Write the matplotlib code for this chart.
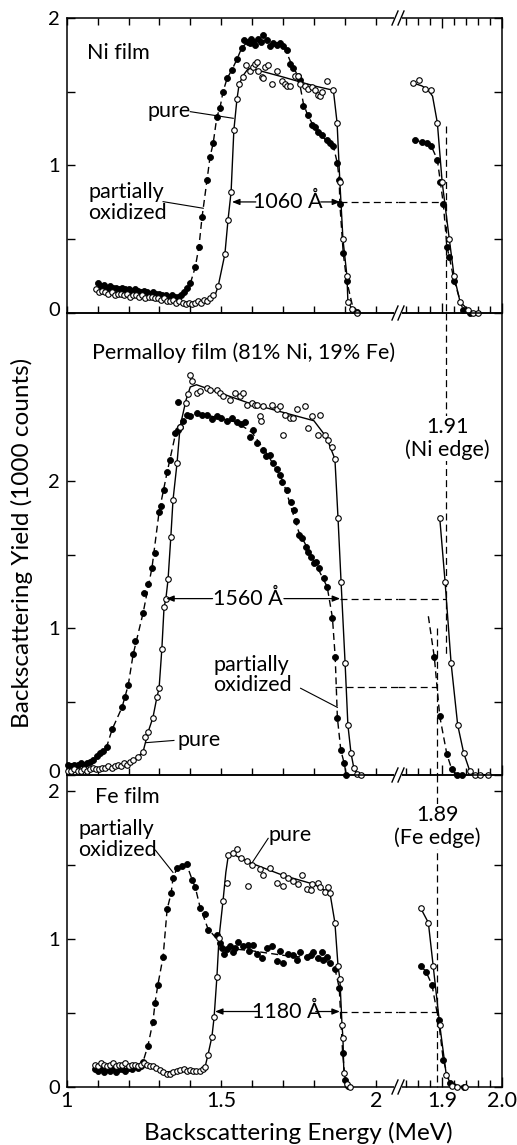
import matplotlib
matplotlib.use("Agg")
import matplotlib.pyplot as plt
from matplotlib.lines import Line2D
from matplotlib.transforms import ScaledTranslation
import numpy as np

plt.rcParams['font.family'] = ['Lato', 'DejaVu Sans']
plt.rcParams['lines.scale_dashes'] = False

# ---------------- DATA ----------------
# Top panel: Ni film (main energy scale)
ni_pure_E = [1.095,1.105,1.115,1.125,1.135,1.145,1.155,1.165,1.175,1.185,1.195,1.205,1.215,1.225,1.235,1.245,1.255,1.265,1.275,1.285,
             1.295,1.305,1.315,1.325,1.335,1.345,1.355,1.365,1.375,1.385,1.395,1.405,1.415,1.425,1.435,1.445,1.455,1.465,1.475,1.490,
             1.512,1.522,1.532,1.541,1.551,1.558,1.571,1.580,
             1.593,1.602,1.609,1.615,1.620,1.631,1.636,1.642,1.652,1.663,1.680,1.696,1.706,1.712,1.723,1.739,1.750,1.755,1.771,1.782,
             1.793,1.804,1.814,1.820,1.825,1.841,1.863,
             1.875,1.884,1.894,1.907,1.910,1.923,1.939]
ni_pure_Y = [0.16,0.14,0.15,0.14,0.13,0.14,0.12,0.13,0.13,0.12,0.13,0.11,0.12,0.12,0.11,0.12,0.10,0.11,0.11,0.10,
             0.10,0.09,0.10,0.08,0.08,0.09,0.07,0.08,0.07,0.06,0.07,0.06,0.07,0.08,0.07,0.09,0.08,0.10,0.12,0.18,
             0.40,0.63,0.82,1.24,1.45,1.55,1.60,1.68,
             1.64,1.67,1.69,1.70,1.64,1.60,1.59,1.67,1.68,1.55,1.64,1.57,1.55,1.54,1.54,1.61,1.61,1.55,1.54,1.52,
             1.53,1.51,1.48,1.47,1.50,1.57,1.51,
             1.29,0.89,0.50,0.25,0.075,0.03,0.0]
ni_pure_fitE = [1.095,1.20,1.30,1.38,1.43,1.46,1.48,1.49,1.512,1.522,1.532,1.541,1.551,1.558,1.571,1.585,1.594,1.70,1.80,1.863,
                1.875,1.884,1.894,1.907,1.910,1.923,1.939,1.95]
ni_pure_fitY = [0.16,0.125,0.095,0.07,0.07,0.09,0.12,0.18,0.40,0.63,0.82,1.24,1.45,1.55,1.61,1.65,1.66,1.60,1.54,1.51,
                1.29,0.89,0.50,0.25,0.075,0.03,0.0,0.0]

ni_ox_E = [1.10,1.11,1.12,1.13,1.14,1.15,1.16,1.17,1.18,1.19,1.20,1.21,1.22,1.23,1.24,1.25,1.26,1.27,1.28,1.29,
           1.30,1.31,1.32,1.33,1.34,1.35,1.36,1.37,1.38,1.39,
           1.400,1.416,1.428,1.438,1.454,1.464,1.474,1.486,1.496,1.506,1.519,1.535,1.551,1.567,1.575,1.587,
           1.593,1.598,1.604,1.610,1.620,1.628,1.636,1.647,1.658,1.669,1.680,1.690,1.701,1.712,1.723,1.733,1.750,1.755,
           1.766,1.782,1.793,1.804,1.814,1.825,1.841,1.852,1.863,1.876,1.882,1.884,1.895,1.906,1.928,1.938]
ni_ox_Y = [0.20,0.18,0.19,0.17,0.18,0.17,0.17,0.16,0.17,0.16,0.16,0.15,0.16,0.15,0.14,0.15,0.14,0.13,0.14,0.13,
           0.13,0.12,0.12,0.11,0.12,0.11,0.11,0.12,0.14,0.17,
           0.20,0.31,0.45,0.65,0.90,1.06,1.15,1.33,1.39,1.50,1.59,1.65,1.72,1.80,1.85,1.84,
           1.83,1.86,1.84,1.82,1.86,1.84,1.885,1.85,1.81,1.83,1.82,1.83,1.81,1.78,1.69,1.66,1.61,1.58,
           1.40,1.34,1.275,1.26,1.23,1.21,1.17,1.15,1.13,1.015,0.90,0.74,0.405,0.22,0.02,0.01]
ni_ox_fitE = [1.10,1.20,1.30,1.35,1.375,1.39,1.400,1.416,1.428,1.438,1.454,1.464,1.474,1.486,1.496,1.506,1.519,1.535,1.551,1.567,
              1.587,1.62,1.68,1.705,1.725,1.75,1.766,1.78,1.80,1.83,1.863,1.876,1.882,1.884,1.895,1.906,1.928,1.945]
ni_ox_fitY = [0.19,0.165,0.13,0.11,0.125,0.16,0.20,0.31,0.45,0.65,0.90,1.06,1.15,1.33,1.39,1.50,1.59,1.65,1.72,1.80,
              1.84,1.855,1.83,1.80,1.70,1.60,1.42,1.34,1.265,1.19,1.13,1.015,0.90,0.74,0.405,0.22,0.02,0.0]

# Top panel, expanded edge scale
ni_pure_edge_E = [1.851,1.862,1.872,1.882,1.892,1.900,1.912,1.920,1.930,1.944,1.952,1.960]
ni_pure_edge_Y = [1.56,1.58,1.52,1.51,1.29,0.89,0.50,0.25,0.075,0.02,0.0,0.0]
ni_pure_edge_fitE = [1.851,1.866,1.876,1.884,1.892,1.900,1.912,1.920,1.930,1.944,1.952,1.960]
ni_pure_edge_fitY = [1.56,1.54,1.515,1.47,1.29,0.89,0.50,0.25,0.075,0.02,0.0,0.0]
ni_ox_edge_E = [1.855,1.867,1.875,1.882,1.892,1.897,1.902,1.908,1.912,1.920,1.935,1.947]
ni_ox_edge_Y = [1.17,1.16,1.15,1.13,1.04,0.89,0.74,0.45,0.38,0.22,0.02,0.0]

# Middle panel: Permalloy film
py_pure_E = [1.005,1.015,1.025,1.035,1.045,1.055,1.065,1.075,1.085,1.095,1.105,1.115,1.125,1.135,1.145,1.155,1.165,1.175,1.185,1.195,1.205,
             1.216,1.232,1.247,1.254,1.263,1.279,1.292,1.299,1.308,1.315,1.321,1.328,1.337,1.344,1.357,1.367,1.386,1.393,
             1.399,1.404,1.421,1.431,1.453,1.464,1.485,1.496,1.507,1.528,1.545,1.561,1.571,1.583,1.599,1.609,1.615,1.626,1.630,
             1.636,1.663,1.680,1.690,1.701,1.706,1.723,1.733,1.744,1.771,1.782,1.793,1.814,1.820,1.836,1.847,1.858,1.868,
             1.878,1.888,1.901,1.910,1.920,1.929,1.939,1.952]
py_pure_Y = [0.03,0.03,0.04,0.03,0.03,0.04,0.03,0.04,0.05,0.04,0.04,0.05,0.05,0.06,0.05,0.06,0.07,0.06,0.08,0.07,0.09,
             0.10,0.12,0.156,0.26,0.29,0.39,0.53,0.59,0.86,1.14,1.20,1.33,1.62,1.87,2.12,2.37,2.53,2.59,
             2.72,2.68,2.60,2.61,2.63,2.62,2.62,2.60,2.58,2.55,2.60,2.58,2.60,2.52,2.53,2.52,2.52,2.44,2.41,
             2.51,2.52,2.49,2.51,2.31,2.45,2.43,2.43,2.49,2.51,2.36,2.44,2.31,2.45,2.31,2.28,2.23,2.15,
             1.75,1.31,0.76,0.34,0.15,0.05,0.01,0.0]
py_pure_fitE = [1.0,1.1,1.18,1.216,1.247,1.263,1.279,1.292,1.299,1.308,1.315,1.321,1.328,1.337,1.344,1.357,1.367,1.386,1.40,1.42,
                1.59,1.80,1.84,1.868,1.878,1.888,1.901,1.910,1.920,1.929,1.939,1.952]
py_pure_fitY = [0.03,0.04,0.07,0.10,0.156,0.29,0.39,0.53,0.59,0.86,1.14,1.20,1.33,1.62,1.87,2.12,2.37,2.55,2.64,2.655,
                2.53,2.41,2.30,2.15,1.75,1.31,0.76,0.34,0.15,0.05,0.01,0.0]

py_ox_E = [1.005,1.015,1.025,1.035,1.045,1.055,1.065,1.075,1.086,1.097,1.107,1.118,1.129,
           1.147,1.179,1.189,1.199,1.215,1.221,1.247,1.250,1.262,1.276,1.286,1.299,1.306,1.315,1.325,1.334,1.350,1.360,1.361,1.367,1.377,1.389,
           1.400,1.421,1.437,1.454,1.470,1.487,1.500,1.519,1.535,1.551,1.565,1.577,1.593,1.603,1.616,
           1.634,1.645,1.657,1.667,1.680,1.690,1.698,1.714,1.726,1.735,1.742,1.752,1.762,1.775,1.780,1.791,1.800,1.806,1.816,1.833,1.843,
           1.860,1.869,1.876,1.887,1.898,1.905]
py_ox_Y = [0.07,0.06,0.07,0.07,0.08,0.07,0.08,0.09,0.10,0.13,0.15,0.16,0.19,
           0.31,0.46,0.53,0.61,0.82,0.91,1.10,1.24,1.30,1.41,1.51,1.79,1.83,1.94,2.06,2.14,2.33,2.35,2.54,2.37,2.41,2.45,
           2.44,2.46,2.45,2.45,2.42,2.44,2.43,2.41,2.43,2.40,2.39,2.40,2.30,2.35,2.26,
           2.21,2.17,2.18,2.12,2.08,2.04,1.99,1.94,1.86,1.80,1.73,1.63,1.61,1.55,1.52,1.48,1.44,1.45,1.41,1.34,1.28,
           1.07,0.80,0.39,0.17,0.08,0.0]
py_ox_fitE = [1.0,1.07,1.097,1.129,1.147,1.179,1.199,1.215,1.247,1.276,1.299,1.325,1.35,1.389,1.45,1.55,1.60,1.65,1.70,1.75,
              1.80,1.843,1.860,1.869,1.876,1.887,1.898,1.905]
py_ox_fitY = [0.07,0.085,0.13,0.19,0.31,0.46,0.61,0.82,1.10,1.41,1.79,2.06,2.30,2.45,2.45,2.40,2.33,2.18,2.0,1.66,
              1.46,1.28,1.07,0.80,0.39,0.17,0.08,0.0]

py_pure_edge_E = [1.896,1.905,1.915,1.926,1.936,1.946,1.955,1.964,1.976]
py_pure_edge_Y = [1.75,1.31,0.76,0.34,0.15,0.03,0.0,0.0,0.0]
py_ox_edge_E = [1.887,1.896,1.908,1.916,1.925,1.933]
py_ox_edge_Y = [0.80,0.40,0.14,0.04,0.0,0.0]
py_ox_edge_fitE = [1.877,1.887,1.896,1.908,1.916,1.925,1.933]
py_ox_edge_fitY = [1.08,0.80,0.40,0.14,0.04,0.0,0.0]

# Bottom panel: Fe film
fe_pure_E = [1.09,1.10,1.11,1.12,1.13,1.14,1.15,1.16,1.17,1.18,1.19,1.20,1.21,1.22,1.23,1.24,1.25,1.26,1.27,1.28,1.29,
             1.302,1.312,1.323,1.334,1.345,1.356,1.367,1.378,1.389,1.399,1.410,1.420,1.431,1.440,1.448,
             1.457,1.470,1.477,1.486,1.493,1.506,1.519,1.522,1.538,1.551,1.564,1.583,1.588,1.600,
             1.626,1.636,1.658,1.680,1.700,1.701,1.717,1.733,1.750,1.761,1.777,1.790,1.793,1.814,1.820,1.836,1.845,1.852,
             1.868,1.878,1.884,1.891,1.894,1.897,1.907,1.917]
fe_pure_Y = [0.15,0.14,0.16,0.15,0.14,0.15,0.16,0.14,0.15,0.15,0.16,0.14,0.15,0.15,0.14,0.15,0.16,0.15,0.14,0.14,0.13,
             0.115,0.10,0.09,0.09,0.10,0.11,0.115,0.12,0.11,0.115,0.11,0.11,0.11,0.12,0.137,
             0.216,0.34,0.47,0.74,1.01,1.26,1.38,1.57,1.58,1.61,1.55,1.53,1.36,1.50,
             1.47,1.43,1.48,1.38,1.36,1.43,1.41,1.39,1.37,1.43,1.34,1.33,1.37,1.38,1.35,1.32,1.35,1.31,
             1.11,0.82,0.73,0.42,0.33,0.095,0.02,0.0]
fe_pure_fitE = [1.09,1.20,1.28,1.32,1.37,1.43,1.448,1.457,1.470,1.477,1.486,1.493,1.506,1.515,1.522,1.535,1.55,1.60,1.70,1.80,
                1.852,1.868,1.878,1.884,1.891,1.894,1.897,1.907,1.917]
fe_pure_fitY = [0.15,0.15,0.14,0.10,0.115,0.11,0.137,0.216,0.34,0.47,0.74,1.01,1.26,1.45,1.55,1.585,1.56,1.51,1.43,1.37,
                1.31,1.11,0.82,0.73,0.42,0.33,0.095,0.02,0.0]

fe_ox_E = [1.09,1.10,1.11,1.12,1.13,1.14,1.15,1.16,1.17,1.18,1.19,1.20,1.21,1.22,1.23,1.24,
           1.247,1.263,1.279,1.286,1.295,1.312,1.325,1.338,1.344,1.357,1.373,1.389,1.406,1.416,1.431,1.448,1.457,1.486,1.496,
           1.502,1.510,1.518,1.528,1.539,1.545,1.555,1.572,1.588,1.590,1.604,1.615,1.631,1.647,1.663,1.680,1.690,1.701,1.717,
           1.733,1.745,1.755,1.777,1.790,1.798,1.814,1.825,1.830,1.841,1.852,1.868,1.882,1.893,1.901,1.911]
fe_ox_Y = [0.12,0.11,0.13,0.10,0.12,0.11,0.13,0.10,0.12,0.12,0.11,0.13,0.12,0.14,0.13,0.14,
           0.17,0.28,0.44,0.57,0.69,0.88,1.20,1.31,1.41,1.48,1.49,1.51,1.40,1.35,1.21,1.17,1.06,1.03,0.97,
           0.94,0.90,0.93,0.95,0.91,0.94,0.98,0.95,0.96,0.92,0.96,0.90,0.87,0.94,0.95,0.85,0.92,0.84,0.90,
           0.89,0.86,0.91,0.88,0.89,0.91,0.87,0.91,0.86,0.88,0.84,0.80,0.67,0.23,0.05,0.01]
fe_ox_fitE = [1.09,1.20,1.24,1.247,1.263,1.279,1.286,1.295,1.312,1.325,1.338,1.344,1.357,1.373,1.389,1.406,1.416,1.431,1.457,1.486,
              1.51,1.60,1.70,1.80,1.852,1.868,1.882,1.893,1.901,1.911]
fe_ox_fitY = [0.12,0.12,0.135,0.17,0.28,0.44,0.57,0.69,0.88,1.20,1.31,1.41,1.48,1.50,1.50,1.40,1.35,1.22,1.07,1.00,
              0.94,0.92,0.89,0.87,0.84,0.80,0.67,0.23,0.05,0.0]

fe_pure_edge_E = [1.864,1.877,1.885,1.896,1.907,1.916,1.925,1.939]
fe_pure_edge_Y = [1.21,1.11,0.82,0.42,0.08,0.01,0.0,0.0]
fe_ox_edge_E = [1.864,1.873,1.883,1.894,1.902,1.913,1.936]
fe_ox_edge_Y = [0.82,0.78,0.69,0.45,0.18,0.03,0.0]

# thickness markers (energy positions of arrows, yield level)
ni_width = dict(label='1060 Å', y=0.753, e_left=1.535, e_right=1.885, t_left=1.612, t_right=1.822, tx=1.716)
py_width = dict(label='1560 Å', y=1.20, e_left=1.322, e_right=1.885, t_left=1.472, t_right=1.703, tx=1.587)
fe_width = dict(label='1180 Å', y=0.51, e_left=1.480, e_right=1.884, t_left=1.618, t_right=1.806, tx=1.712)
ni_edge = 1.906
fe_edge = 1.891

# ---------------- FIGURE ----------------
W, H = 517, 1145
fig = plt.figure(figsize=(W/100, H/100), dpi=100)

xL0, xB, xR1 = 66.7, 398.0, 502.0   # pixel positions: left spine, break, right spine
rows = [(18, 313, 2.0), (313, 775, 3.143), (775, 1087, 2.108)]
left_xlim = (1.0, 1.0 + (xB - xL0)/309.0)
right_xlim = (1.9 - (442 - xB)/597.0, 2.0)

FS = 15.5
TFS = 14.5
axesL, axesR = [], []
for i, (yt, yb, ymax) in enumerate(rows):
    axL = fig.add_axes([xL0/W, 1 - yb/H, (xB - xL0)/W, (yb - yt)/H])
    axR = fig.add_axes([xB/W, 1 - yb/H, (xR1 - xB)/W, (yb - yt)/H])
    axL.set_xlim(*left_xlim); axR.set_xlim(*right_xlim)
    for a in (axL, axR):
        a.set_ylim(0, ymax)
        a.patch.set_alpha(0)
        for s in a.spines.values():
            s.set_linewidth(1.1)
    axL.spines['right'].set_visible(False)
    axR.spines['left'].set_visible(False)
    axL.set_xticks([1.0, 1.5, 2.0]); axL.set_xticklabels(['1', '1.5', '2'])
    axL.set_xticks(np.arange(1.1, 2.05, 0.1), minor=True)
    axR.set_xticks([1.9, 2.0]); axR.set_xticklabels(['1.9', '2.0'])
    axR.set_xticks(np.arange(1.84, 1.99, 0.02), minor=True)
    yt_major = [0, 1, 2]
    axL.set_yticks(yt_major); axL.set_yticklabels([str(v) for v in yt_major])
    axL.set_yticks([0.5, 1.5], minor=True)
    axR.set_yticks(yt_major); axR.set_yticks([0.5, 1.5], minor=True)
    top = (i == 0)
    bottom = (i == 2)
    axL.tick_params(axis='x', which='both', direction='in', top=top, bottom=True,
                    labelbottom=bottom, length=5, width=1, labelsize=FS, pad=3)
    axR.tick_params(axis='x', which='both', direction='in', top=top, bottom=True,
                    labelbottom=bottom, length=5, width=1, labelsize=FS, pad=3)
    axR.tick_params(axis='x', which='major', length=7)
    axL.tick_params(axis='y', which='both', direction='in', left=True, right=False,
                    length=6, width=1, labelsize=TFS, pad=5)
    axR.tick_params(axis='y', which='both', direction='in', left=False, right=True,
                    labelleft=False, length=6, width=1)
    axesL.append(axL); axesR.append(axR)

# lift the "0" of the upper panels slightly, as in the original lettering
for axL in axesL[:2]:
    lab = axL.get_yticklabels()[0]
    lab.set_transform(lab.get_transform() + ScaledTranslation(0, 4/100, fig.dpi_scale_trans))

DASH = (5, 3)
LW = 1.0

def draw(ax, pE, pY, fE, fY, filled):
    if filled:
        ax.plot(fE, fY, color='k', lw=LW, dashes=DASH, zorder=2, clip_on=False)
        ax.plot(pE, pY, 'o', ms=4.3, mfc='k', mec='k', mew=0.6, zorder=3, clip_on=False)
    else:
        ax.plot(fE, fY, color='k', lw=LW, zorder=2, clip_on=False)
        ax.plot(pE, pY, 'o', ms=4.0, mfc='white', mec='k', mew=0.8, zorder=4, clip_on=False)

# Top
a, b = axesL[0], axesR[0]
draw(a, ni_ox_E, ni_ox_Y, ni_ox_fitE, ni_ox_fitY, True)
draw(a, ni_pure_E, ni_pure_Y, ni_pure_fitE, ni_pure_fitY, False)
draw(b, ni_ox_edge_E, ni_ox_edge_Y, [1.852] + ni_ox_edge_E, [1.18] + ni_ox_edge_Y, True)
draw(b, ni_pure_edge_E, ni_pure_edge_Y, ni_pure_edge_fitE, ni_pure_edge_fitY, False)
# Middle
a, b = axesL[1], axesR[1]
draw(a, py_ox_E, py_ox_Y, py_ox_fitE, py_ox_fitY, True)
draw(a, py_pure_E, py_pure_Y, py_pure_fitE, py_pure_fitY, False)
draw(b, py_ox_edge_E, py_ox_edge_Y, py_ox_edge_fitE, py_ox_edge_fitY, True)
draw(b, py_pure_edge_E, py_pure_edge_Y, py_pure_edge_E, py_pure_edge_Y, False)
# Bottom
a, b = axesL[2], axesR[2]
draw(a, fe_ox_E, fe_ox_Y, fe_ox_fitE, fe_ox_fitY, True)
draw(a, fe_pure_E, fe_pure_Y, fe_pure_fitE, fe_pure_fitY, False)
draw(b, fe_ox_edge_E, fe_ox_edge_Y, fe_ox_edge_E, fe_ox_edge_Y, True)
draw(b, fe_pure_edge_E, fe_pure_edge_Y, fe_pure_edge_E, fe_pure_edge_Y, False)

# thickness markers
def width_marker(axL, axR, w, edge):
    y = w['y']
    ap = dict(arrowstyle='-|>,head_length=0.45,head_width=0.18', color='k', lw=0.9, shrinkA=0, shrinkB=0)
    axL.annotate('', xy=(w['e_left'], y), xytext=(w['t_left'], y), arrowprops=ap, zorder=5)
    axL.annotate('', xy=(w['e_right'], y), xytext=(w['t_right'], y), arrowprops=ap, zorder=5)
    axL.text(w['tx'], y, w['label'], ha='center', va='center', fontsize=FS)
    axL.plot([w['e_right'], left_xlim[1]], [y, y], color='k', lw=0.9, dashes=DASH, zorder=2)
    axR.plot([right_xlim[0], edge], [y, y], color='k', lw=0.9, dashes=DASH, zorder=2)

width_marker(axesL[0], axesR[0], ni_width, ni_edge)
width_marker(axesL[1], axesR[1], py_width, ni_edge)
width_marker(axesL[2], axesR[2], fe_width, fe_edge)

# second level in middle panel (oxidized Fe edge)
axesL[1].plot([1.868, left_xlim[1]], [0.60, 0.60], color='k', lw=0.9, dashes=DASH)
axesR[1].plot([right_xlim[0], fe_edge], [0.60, 0.60], color='k', lw=0.9, dashes=DASH)

# vertical edge lines
axesR[0].plot([ni_edge, ni_edge], [1.27, 0], color='k', lw=0.9, dashes=DASH, clip_on=False)
axesR[1].plot([ni_edge, ni_edge], [3.143, 0.8], color='k', lw=0.9, dashes=DASH, clip_on=False)
axesR[1].plot([fe_edge, fe_edge], [1.0, 0], color='k', lw=0.9, dashes=DASH, clip_on=False)
axesR[2].plot([fe_edge, fe_edge], [2.108, 0], color='k', lw=0.9, dashes=DASH, clip_on=False)

axesR[1].text(1.909, 2.29, '1.91\n(Ni edge)', ha='center', va='center', fontsize=FS, linespacing=1.15,
              bbox=dict(fc='white', ec='none', pad=1), zorder=6, clip_on=False)
axesR[2].text(1.892, 1.76, '1.89\n(Fe edge)', ha='center', va='center', fontsize=FS, linespacing=1.15,
              bbox=dict(fc='white', ec='none', pad=1), zorder=6, clip_on=False)

# labels in panels
lw_lead = 0.8
a = axesL[0]
a.text(1.066, 1.76, 'Ni film', fontsize=FS, va='center')
a.text(1.26, 1.37, 'pure', fontsize=FS, va='center')
a.plot([1.40, 1.539], [1.365, 1.32], color='k', lw=lw_lead)
a.text(1.069, 0.75, 'partially\noxidized', fontsize=FS, va='center', linespacing=1.05)
a.plot([1.312, 1.442], [0.755, 0.71], color='k', lw=lw_lead)

a = axesL[1]
a.text(1.082, 2.87, 'Permalloy film (81% Ni, 19% Fe)', fontsize=FS, va='center')
a.text(1.357, 0.235, 'pure', fontsize=FS, va='center')
a.plot([1.257, 1.347], [0.22, 0.235], color='k', lw=lw_lead)
a.text(1.474, 0.68, 'partially\noxidized', fontsize=FS, va='center', linespacing=1.05)
a.plot([1.757, 1.876], [0.59, 0.46], color='k', lw=lw_lead)

a = axesL[2]
a.text(1.092, 1.96, 'Fe film', fontsize=FS, va='center')
a.text(1.037, 1.67, 'partially\noxidized', fontsize=FS, va='center', linespacing=1.05)
a.plot([1.287, 1.344], [1.60, 1.45], color='k', lw=lw_lead)
a.text(1.652, 1.70, 'pure', fontsize=FS, va='center')
a.plot([1.652, 1.60], [1.68, 1.515], color='k', lw=lw_lead)

# axis labels
fig.text(22/W, 1 - 543/H, 'Backscattering Yield (1000 counts)', rotation=90, ha='center', va='center', fontsize=17.5)
fig.text(298/W, 1 - 1133/H, 'Backscattering Energy (MeV)', ha='center', va='center', fontsize=17.5)

# break marks "//" on the horizontal axis lines
def break_mark(ypix):
    xf = xB/W
    yf = 1 - ypix/H
    fig.add_artist(plt.Rectangle((xf - 4/W, yf - 1.5/H), 8/W, 3/H, transform=fig.transFigure,
                                 fc='white', ec='none', zorder=10))
    for dx in (-3.0, 3.0):
        fig.add_artist(Line2D([xf + (dx - 3)/W, xf + (dx + 3)/W], [yf - 7/H, yf + 7/H],
                              transform=fig.transFigure, color='k', lw=1.0, zorder=11))

for yp in (18, 313, 775, 1087):
    break_mark(yp)

fig.savefig('out.png', dpi=100)
